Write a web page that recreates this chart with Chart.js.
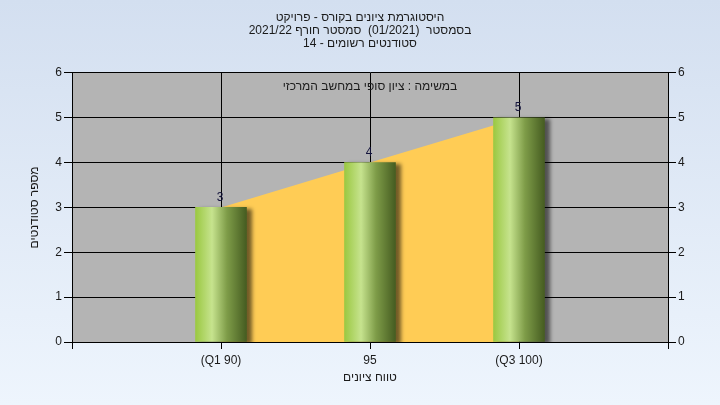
<!DOCTYPE html>
<html>
<head>
<meta charset="utf-8">
<script src="https://cdn.jsdelivr.net/npm/chart.js@4/dist/chart.umd.min.js"></script>
<style>
  html, body { margin: 0; padding: 0; }
  #wrap { width: 720px; height: 405px; }
</style>
</head>
<body>
<div id="wrap"><canvas id="histChart" dir="rtl"></canvas></div>
<script>
const titleLines = [
    'היסטוגרמת ציונים בקורס - פרויקט',
    'בסמסטר  (01/2021)  סמסטר חורף 2021/22',
    'סטודנטים רשומים - 14'
];
const innerCaption = 'במשימה : ציון סופי במחשב המרכזי';
const gradeLabels = ['', '(Q1 90)', '95', '(Q3 100)', ''];
const studentCounts = [null, 3, 4, 5, null];
const yTickValues = [0, 1, 2, 3, 4, 5, 6];
const xAxisTitle = 'טווח ציונים';
const yAxisTitle = 'מספר סטודנטים';

const FONT = 'Liberation Sans';
const ltr = s => '\u2066' + s + '\u2069';

// background + grey plot area
const backdrop = {
    id: 'backdrop',
    beforeDraw(chart) {
        const { ctx, width, height, chartArea: a } = chart;
        ctx.save();
        const g = ctx.createLinearGradient(0, 0, 0, height);
        g.addColorStop(0, '#d3dff0');
        g.addColorStop(1, '#eef5fd');
        ctx.fillStyle = g;
        ctx.fillRect(0, 0, width, height);
        ctx.fillStyle = '#b4b4b4';
        ctx.fillRect(a.left, a.top, a.right - a.left, a.bottom - a.top);
        ctx.restore();
    },
    beforeDatasetDraw(chart, args) {
        if (args.index !== 0) return;
        const ctx = chart.ctx;
        ctx.save();
        ctx.shadowColor = 'rgba(0,0,0,0.55)';
        ctx.shadowBlur = 4;
        ctx.shadowOffsetX = 5;
        ctx.shadowOffsetY = 2;
    },
    afterDatasetDraw(chart, args) {
        if (args.index !== 0) return;
        chart.ctx.restore();
    },
    afterDatasetsDraw(chart) {
        const { ctx, chartArea: a } = chart;
        ctx.save();
        ctx.font = '12px "' + FONT + '"';
        ctx.fillStyle = '#1c1c1c';
        ctx.textAlign = 'center';
        ctx.textBaseline = 'middle';
        ctx.fillText(innerCaption, (a.left + a.right) / 2, a.top + 14);
        ctx.fillStyle = '#14143c';
        chart.getDatasetMeta(0).data.forEach((bar, i) => {
            if (studentCounts[i] == null) return;
            ctx.fillText(String(studentCounts[i]), bar.x - 1, bar.y - 10);
        });
        ctx.restore();
    }
};

function barFill(context) {
    const chart = context.chart;
    if (!chart.chartArea || !chart.scales.x) return '#9dc843';
    const cx = chart.scales.x.getPixelForValue(context.dataIndex);
    const g = chart.ctx.createLinearGradient(cx - 25, 0, cx + 25, 0);
    g.addColorStop(0, '#9cc944');
    g.addColorStop(0.32, '#c6e38e');
    g.addColorStop(0.62, '#7e9c48');
    g.addColorStop(1, '#475e22');
    return g;
}

const tickFont = { family: FONT, size: 12 };

new Chart(document.getElementById('histChart'), {
    type: 'bar',
    data: {
        labels: gradeLabels.map(l => l ? ltr(l) : l),
        datasets: [
            {
                type: 'bar',
                data: studentCounts,
                backgroundColor: barFill,
                borderWidth: 0,
                barThickness: 51,
                order: 1
            },
            {
                type: 'line',
                data: studentCounts,
                backgroundColor: '#ffcc55',
                borderWidth: 0,
                pointRadius: 0,
                fill: 'origin',
                tension: 0,
                order: 2
            }
        ]
    },
    options: {
        responsive: true,
        maintainAspectRatio: false,
        animation: false,
        layout: { padding: 0 },
        plugins: {
            legend: { display: false },
            tooltip: { enabled: false },
            title: {
                display: true,
                text: titleLines,
                color: '#1a1a1a',
                font: { family: FONT, size: 12, weight: 'normal', lineHeight: 1.08 },
                padding: { top: 11, bottom: 23 }
            }
        },
        scales: {
            x: {
                offset: false,
                grid: { offset: false, color: '#000', tickLength: 7, tickColor: '#000' },
                border: { color: '#000' },
                ticks: { color: '#1a1a1a', font: tickFont, maxRotation: 0, autoSkip: false, padding: 4 },
                title: { display: true, text: xAxisTitle, color: '#1a1a1a', font: tickFont, padding: { top: 0, bottom: 20 } },
                afterFit: s => { s.height = 63; }
            },
            y: {
                min: 0,
                max: 6,
                afterBuildTicks: s => { s.ticks = yTickValues.map(v => ({ value: v })); },
                grid: { color: '#000', tickLength: 8, tickColor: '#000' },
                border: { color: '#000' },
                ticks: { color: '#1a1a1a', font: tickFont, padding: 2 },
                title: { display: true, text: yAxisTitle, color: '#1a1a1a', font: tickFont, padding: { top: 27, bottom: 0 } },
                afterFit: s => { s.width = 72; }
            },
            y2: {
                position: 'right',
                min: 0,
                max: 6,
                afterBuildTicks: s => { s.ticks = yTickValues.map(v => ({ value: v })); },
                grid: { drawOnChartArea: false, tickLength: 8, tickColor: '#000' },
                border: { color: '#000' },
                ticks: { color: '#1a1a1a', font: tickFont, padding: 2 },
                afterFit: s => { s.width = 52; }
            }
        }
    },
    plugins: [backdrop]
});
</script>
</body>
</html>
